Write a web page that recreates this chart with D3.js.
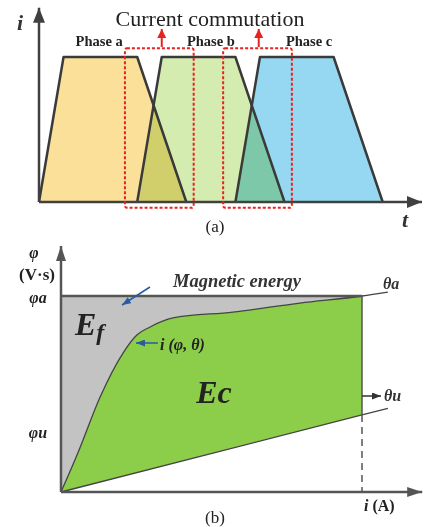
<!DOCTYPE html>
<html>
<head>
<meta charset="utf-8">
<script src="https://cdn.jsdelivr.net/npm/d3@7"></script>
<style>
  body { margin: 0; background: #fff; }
  svg { display: block; }
  text { font-family: "Liberation Serif", "DejaVu Serif", serif; }
</style>
</head>
<body>
<svg id="chart"></svg>
<script>
const svg_w = 425;
const svg_h = 527;

// (a) corrientes de fase: t de inicio de subida, inicio plano, fin plano, fin bajada
const phaseNames = ["Phase a", "Phase b", "Phase c"];
const phaseT = [[0, 1, 4, 6], [4, 5, 8, 10], [8, 9, 12, 14]];
const phaseI = [0, 1, 1, 0];
const phaseLabelT = [2.45, 7, 11];
const phaseColors = ["#fbe09a", "#d5ecb1", "#96d8f2"];
const commutationT = [[3.5, 6.3], [7.5, 10.3]];
const commutationArrowT = [5.0, 8.95];

// (b) curva de magnetización i(φ, θ)
const magI = [0, 0.056, 0.13, 0.206, 0.252, 0.296, 0.372, 0.571, 0.794, 1, 1.086];
const magPhi = [0, 0.199, 0.485, 0.709, 0.801, 0.842, 0.888, 0.918, 0.964, 1, 1.02];
// recta no alineada θu
const unalignedI = [0, 1, 1.086];
const unalignedPhi = [0, 0.393, 0.427];
const phiA = 1;
const iMax = 1;

const svg = d3.select("#chart")
  .attr("width", svg_w)
  .attr("height", svg_h);

const defs = svg.append("defs");
function marker(id, color, w, l) {
  defs.append("marker")
    .attr("id", id)
    .attr("markerUnits", "userSpaceOnUse")
    .attr("markerWidth", l).attr("markerHeight", w)
    .attr("refX", l).attr("refY", w / 2)
    .attr("orient", "auto")
    .append("path")
    .attr("d", `M0,0L${l},${w / 2}L0,${w}Z`)
    .attr("fill", color);
}
marker("axA", "#404040", 12, 15);
marker("axB", "#555", 10, 15);
marker("red", "#e8231f", 9, 9);
marker("blue", "#2a5b9e", 7, 9);
marker("blk", "#333", 7, 9);

// ---------- (a) ----------
const xa = d3.scaleLinear().domain([0, 15.6]).range([39, 422]);
const ya = d3.scaleLinear().domain([0, 1]).range([202, 57]);

const ga = svg.append("g");

const phaseLine = d3.line().x(d => xa(d[0])).y(d => ya(d[1]));
ga.append("g").style("isolation", "isolate")
  .selectAll("path")
  .data(phaseT)
  .enter()
  .append("path")
  .attr("d", d => phaseLine(d.map((t, k) => [t, phaseI[k]])))
  .attr("fill", (d, k) => phaseColors[k])
  .style("mix-blend-mode", "multiply");

ga.selectAll("path.out")
  .data(phaseT)
  .enter()
  .append("path")
  .attr("class", "out")
  .attr("d", d => phaseLine(d.map((t, k) => [t, phaseI[k]])))
  .attr("fill", "none")
  .attr("stroke", "#3a3a3a")
  .attr("stroke-width", 2.5)
  .attr("stroke-linejoin", "round");

ga.selectAll("text.phase")
  .data(phaseNames)
  .enter()
  .append("text")
  .attr("x", (d, k) => xa(phaseLabelT[k]))
  .attr("y", 46)
  .attr("text-anchor", "middle")
  .attr("font-size", 14.5)
  .attr("font-weight", "bold")
  .attr("fill", "#222")
  .text(d => d);

// ejes
ga.append("line")
  .attr("x1", xa(0)).attr("y1", ya(0))
  .attr("x2", xa(0)).attr("y2", ya(1.34))
  .attr("stroke", "#404040").attr("stroke-width", 2.5)
  .attr("marker-end", "url(#axA)");
ga.append("line")
  .attr("x1", xa(0)).attr("y1", ya(0))
  .attr("x2", xa(15.6)).attr("y2", ya(0))
  .attr("stroke", "#404040").attr("stroke-width", 2.5)
  .attr("marker-end", "url(#axA)");

// cajas de conmutación
ga.selectAll("rect.box")
  .data(commutationT)
  .enter()
  .append("rect")
  .attr("class", "box")
  .attr("x", d => xa(d[0]))
  .attr("y", ya(1.06))
  .attr("width", d => xa(d[1]) - xa(d[0]))
  .attr("height", ya(-0.04) - ya(1.06))
  .attr("rx", 2)
  .attr("fill", "none")
  .attr("stroke", "#e8231f")
  .attr("stroke-width", 2)
  .attr("stroke-dasharray", "3,2");

ga.selectAll("line.arr")
  .data(commutationArrowT)
  .enter()
  .append("line")
  .attr("x1", d => xa(d)).attr("y1", 47)
  .attr("x2", d => xa(d)).attr("y2", 29)
  .attr("stroke", "#e8231f").attr("stroke-width", 2)
  .attr("marker-end", "url(#red)");

ga.append("text")
  .attr("x", 210).attr("y", 26)
  .attr("text-anchor", "middle")
  .attr("font-size", 22)
  .attr("fill", "#222")
  .text("Current commutation");

ga.append("text")
  .attr("x", 20).attr("y", 30)
  .attr("text-anchor", "middle")
  .attr("font-size", 22).attr("font-weight", "bold").attr("font-style", "italic")
  .attr("fill", "#333")
  .text("i");
ga.append("text")
  .attr("x", 405).attr("y", 227)
  .attr("text-anchor", "middle")
  .attr("font-size", 22).attr("font-weight", "bold").attr("font-style", "italic")
  .attr("fill", "#333")
  .text("t");
ga.append("text")
  .attr("x", 215).attr("y", 232)
  .attr("text-anchor", "middle")
  .attr("font-size", 17)
  .attr("fill", "#222")
  .text("(a)");

// ---------- (b) ----------
const xb = d3.scaleLinear().domain([0, 1]).range([61, 362]);
const yb = d3.scaleLinear().domain([0, 1]).range([492, 296]);
const gb = svg.append("g");

const magPts = magI.map((v, k) => [v, magPhi[k]]);
const curvePts = magPts.filter(d => d[0] <= iMax);
const unPts = unalignedI.map((v, k) => [v, unalignedPhi[k]]);
const lineB = d3.line().x(d => xb(d[0])).y(d => yb(d[1])).curve(d3.curveMonotoneX);
const polyB = d3.line().x(d => xb(d[0])).y(d => yb(d[1]));

// área gris (Ef): entre eje φ, φa y la curva
gb.append("path")
  .attr("d", lineB(curvePts) + `L${xb(0)},${yb(phiA)}Z`)
  .attr("fill", "#c3c3c3");

// área verde (Ec): entre la curva y θu
const unAt1 = unPts.filter(d => d[0] <= iMax);
gb.append("path")
  .attr("d", lineB(curvePts) + "L" + polyB(unAt1.slice().reverse()).slice(1) + "Z")
  .attr("fill", "#8ccd4a");

// curva θa
gb.append("path")
  .attr("d", lineB(magPts))
  .attr("fill", "none")
  .attr("stroke", "#444").attr("stroke-width", 1.3);
// recta θu
gb.append("path")
  .attr("d", polyB(unPts))
  .attr("fill", "none")
  .attr("stroke", "#444").attr("stroke-width", 1.3);

// φa horizontal
gb.append("line")
  .attr("x1", xb(0)).attr("y1", yb(phiA))
  .attr("x2", xb(iMax)).attr("y2", yb(phiA))
  .attr("stroke", "#555").attr("stroke-width", 2.5);
// borde vertical
gb.append("line")
  .attr("x1", xb(iMax)).attr("y1", yb(phiA))
  .attr("x2", xb(iMax)).attr("y2", yb(unalignedPhi[1]))
  .attr("stroke", "#555").attr("stroke-width", 1.5);
gb.append("line")
  .attr("x1", xb(iMax)).attr("y1", yb(unalignedPhi[1]))
  .attr("x2", xb(iMax)).attr("y2", yb(0))
  .attr("stroke", "#555").attr("stroke-width", 1.5)
  .attr("stroke-dasharray", "7,5");

// ejes
gb.append("line")
  .attr("x1", xb(0)).attr("y1", yb(0))
  .attr("x2", xb(0)).attr("y2", yb(1.255))
  .attr("stroke", "#555").attr("stroke-width", 2.5)
  .attr("marker-end", "url(#axB)");
gb.append("line")
  .attr("x1", xb(0)).attr("y1", yb(0))
  .attr("x2", xb(1.2)).attr("y2", yb(0))
  .attr("stroke", "#555").attr("stroke-width", 2.5)
  .attr("marker-end", "url(#axB)");

// flechas de anotación
gb.append("line")
  .attr("x1", 150).attr("y1", 287).attr("x2", 122).attr("y2", 305)
  .attr("stroke", "#2a5b9e").attr("stroke-width", 1.5)
  .attr("marker-end", "url(#blue)");
gb.append("line")
  .attr("x1", 158).attr("y1", 343).attr("x2", 136).attr("y2", 343)
  .attr("stroke", "#2a5b9e").attr("stroke-width", 1.5)
  .attr("marker-end", "url(#blue)");
gb.append("line")
  .attr("x1", xb(iMax)).attr("y1", 396).attr("x2", 381).attr("y2", 396)
  .attr("stroke", "#333").attr("stroke-width", 1.5)
  .attr("marker-end", "url(#blk)");

function label(x, y, s, size, opts = {}) {
  return gb.append("text")
    .attr("x", x).attr("y", y)
    .attr("text-anchor", opts.anchor || "start")
    .attr("font-size", size)
    .attr("font-weight", opts.bold === false ? "normal" : "bold")
    .attr("font-style", opts.italic === false ? "normal" : "italic")
    .attr("fill", opts.fill || "#222")
    .text(s);
}

label(34, 258, "φ", 16, {anchor: "middle"});
label(37, 280, "(V·s)", 17, {anchor: "middle", italic: false});
label(38, 303, "φa", 16, {anchor: "middle"});
label(38, 438, "φu", 16, {anchor: "middle"});
label(237, 287, "Magnetic energy", 18.5, {anchor: "middle", fill: "#333"});
label(383, 289, "θa", 16, {fill: "#333"});
label(384, 401, "θu", 16, {fill: "#333"});
label(160, 350, "i (φ, θ)", 16);
const ef = label(75, 335, "E", 32);
ef.append("tspan").attr("dy", 5).attr("font-size", 24).text("f");
label(214, 403, "Ec", 32, {anchor: "middle"});
const ia = label(364, 511, "i ", 16);
ia.append("tspan").attr("font-style", "normal").text("(A)");
label(215, 523, "(b)", 17, {anchor: "middle", bold: false, italic: false});
</script>
</body>
</html>
